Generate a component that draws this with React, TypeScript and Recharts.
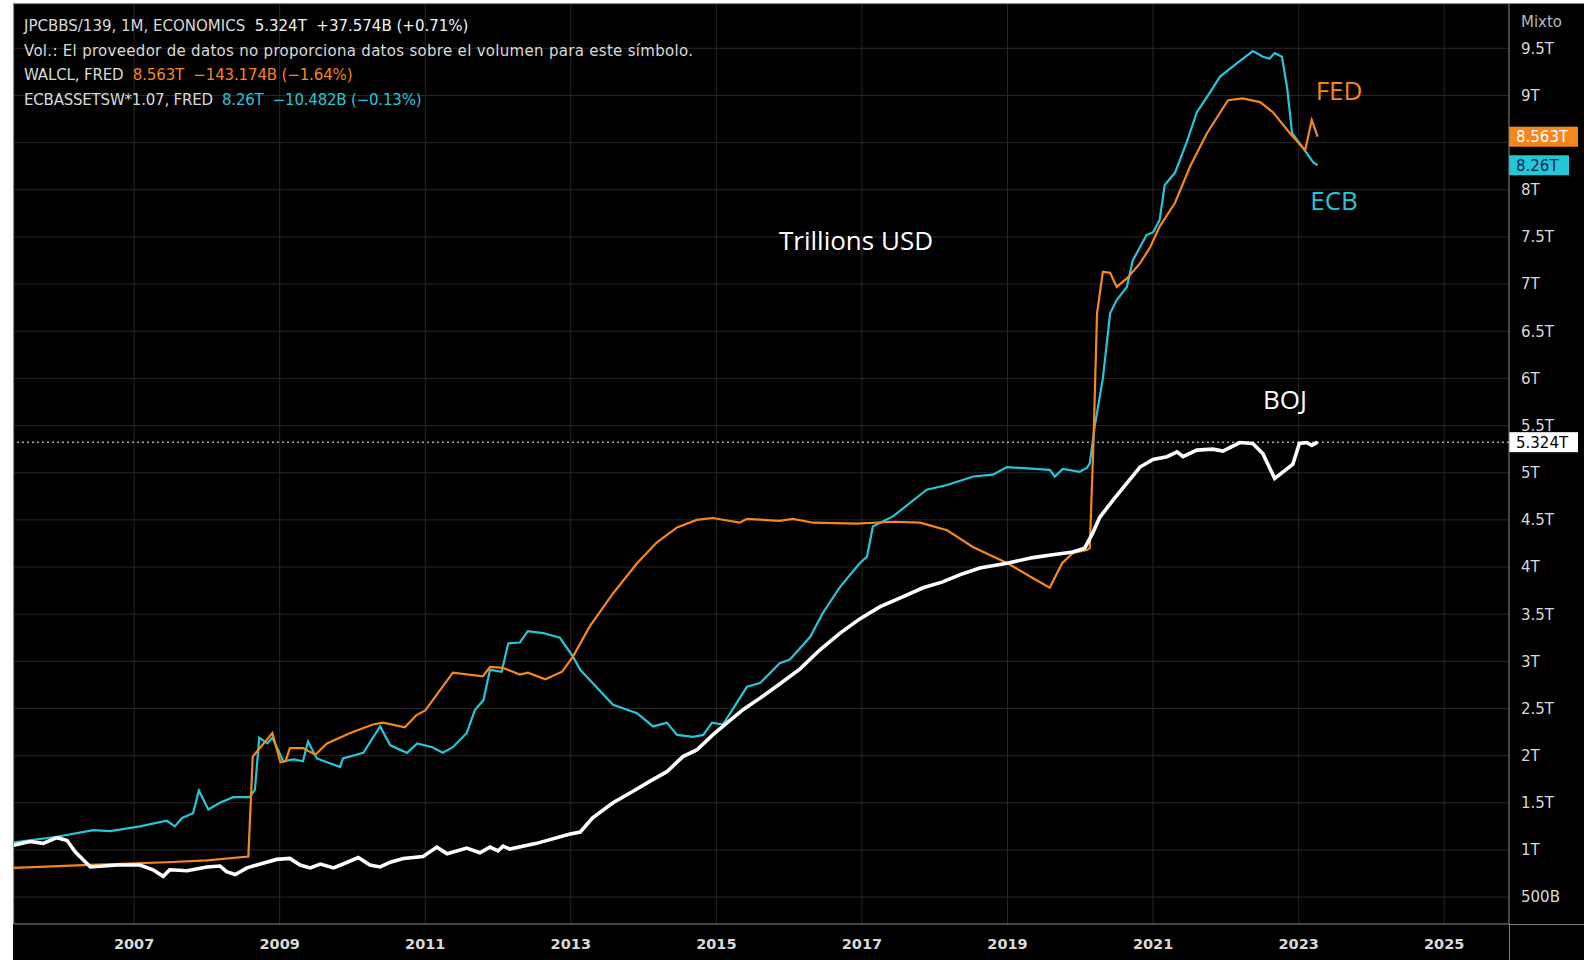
import React from 'react';
import { LineChart, Line, XAxis, YAxis, CartesianGrid, ReferenceLine } from 'recharts';

// ---- data (fractional year, trillions USD) ----
const fedYears = [2005.35, 2006.3, 2007.45, 2008.0, 2008.57, 2008.63, 2008.9, 2009.01, 2009.08, 2009.14, 2009.32, 2009.49, 2009.65, 2009.97, 2010.28, 2010.42, 2010.72, 2010.88, 2011.0, 2011.38, 2011.79, 2011.89, 2012.07, 2012.3, 2012.41, 2012.65, 2012.88, 2013.03, 2013.26, 2013.58, 2013.91, 2014.18, 2014.46, 2014.73, 2014.95, 2015.32, 2015.42, 2015.87, 2016.05, 2016.33, 2016.93, 2017.43, 2017.8, 2018.17, 2018.53, 2019.0, 2019.31, 2019.58, 2019.75, 2019.9, 2020.09, 2020.13, 2020.18, 2020.23, 2020.31, 2020.41, 2020.5, 2020.64, 2020.82, 2020.96, 2021.09, 2021.3, 2021.51, 2021.74, 2022.03, 2022.23, 2022.47, 2022.65, 2022.88, 2023.09, 2023.18, 2023.26];
const fedValues = [0.81, 0.84, 0.87, 0.89, 0.93, 1.99, 2.24, 1.93, 1.94, 2.08, 2.08, 2.01, 2.13, 2.24, 2.33, 2.35, 2.3, 2.43, 2.48, 2.88, 2.84, 2.94, 2.93, 2.86, 2.88, 2.81, 2.89, 3.05, 3.37, 3.72, 4.04, 4.26, 4.42, 4.5, 4.52, 4.47, 4.51, 4.49, 4.51, 4.47, 4.46, 4.48, 4.47, 4.39, 4.21, 4.04, 3.9, 3.78, 4.04, 4.15, 4.18, 4.2, 5.3, 6.69, 7.13, 7.12, 6.97, 7.06, 7.22, 7.39, 7.61, 7.86, 8.25, 8.6, 8.95, 8.97, 8.93, 8.82, 8.6, 8.42, 8.74, 8.563];

const ecbYears = [2005.35, 2005.94, 2006.44, 2006.67, 2007.08, 2007.45, 2007.56, 2007.66, 2007.81, 2007.89, 2008.02, 2008.18, 2008.36, 2008.59, 2008.66, 2008.72, 2008.83, 2008.9, 2009.05, 2009.19, 2009.32, 2009.39, 2009.51, 2009.83, 2009.87, 2010.15, 2010.38, 2010.52, 2010.75, 2010.89, 2011.1, 2011.24, 2011.38, 2011.57, 2011.68, 2011.8, 2011.89, 2012.05, 2012.14, 2012.3, 2012.41, 2012.62, 2012.85, 2013.03, 2013.13, 2013.36, 2013.58, 2013.91, 2014.13, 2014.32, 2014.46, 2014.68, 2014.82, 2014.94, 2015.09, 2015.42, 2015.6, 2015.87, 2016.01, 2016.29, 2016.46, 2016.7, 2016.97, 2017.07, 2017.15, 2017.43, 2017.89, 2018.17, 2018.53, 2018.8, 2018.99, 2019.58, 2019.65, 2019.76, 2019.99, 2020.09, 2020.13, 2020.2, 2020.31, 2020.41, 2020.5, 2020.64, 2020.72, 2020.91, 2021.0, 2021.09, 2021.16, 2021.3, 2021.46, 2021.6, 2021.78, 2021.92, 2022.15, 2022.37, 2022.51, 2022.6, 2022.67, 2022.77, 2022.84, 2022.91, 2023.11, 2023.2, 2023.26];
const ecbValues = [1.08, 1.14, 1.21, 1.2, 1.25, 1.31, 1.25, 1.34, 1.39, 1.63, 1.43, 1.5, 1.56, 1.56, 1.64, 2.19, 2.13, 2.19, 1.94, 1.96, 1.94, 2.15, 1.97, 1.88, 1.97, 2.03, 2.31, 2.11, 2.03, 2.13, 2.09, 2.03, 2.09, 2.24, 2.48, 2.59, 2.91, 2.89, 3.19, 3.2, 3.32, 3.3, 3.25, 3.05, 2.91, 2.72, 2.54, 2.45, 2.31, 2.35, 2.22, 2.2, 2.22, 2.35, 2.33, 2.73, 2.77, 2.98, 3.02, 3.26, 3.51, 3.79, 4.04, 4.11, 4.43, 4.54, 4.82, 4.87, 4.96, 4.98, 5.06, 5.03, 4.96, 5.04, 5.01, 5.05, 5.1, 5.5, 6.0, 6.69, 6.83, 6.97, 7.25, 7.52, 7.55, 7.68, 8.05, 8.18, 8.5, 8.82, 9.03, 9.2, 9.34, 9.47, 9.41, 9.39, 9.45, 9.41, 9.09, 8.6, 8.39, 8.29, 8.26];

const bojYears = [2005.34, 2005.57, 2005.75, 2005.94, 2006.08, 2006.19, 2006.4, 2006.77, 2007.08, 2007.26, 2007.4, 2007.49, 2007.73, 2008.0, 2008.18, 2008.27, 2008.39, 2008.55, 2008.77, 2008.96, 2009.14, 2009.28, 2009.42, 2009.56, 2009.74, 2009.93, 2010.08, 2010.24, 2010.38, 2010.52, 2010.7, 2010.97, 2011.16, 2011.3, 2011.57, 2011.75, 2011.89, 2012.0, 2012.07, 2012.16, 2012.53, 2012.99, 2013.13, 2013.3, 2013.58, 2013.85, 2014.09, 2014.32, 2014.54, 2014.73, 2014.95, 2015.15, 2015.37, 2015.6, 2015.87, 2016.15, 2016.42, 2016.7, 2016.97, 2017.25, 2017.52, 2017.84, 2018.1, 2018.35, 2018.62, 2018.99, 2019.35, 2019.62, 2019.9, 2020.06, 2020.17, 2020.27, 2020.45, 2020.64, 2020.82, 2021.0, 2021.19, 2021.33, 2021.41, 2021.6, 2021.82, 2021.96, 2022.19, 2022.37, 2022.51, 2022.67, 2022.84, 2022.92, 2023.01, 2023.11, 2023.18, 2023.26];
const bojValues = [1.05, 1.09, 1.07, 1.13, 1.1, 0.98, 0.82, 0.84, 0.84, 0.79, 0.72, 0.79, 0.78, 0.82, 0.83, 0.77, 0.74, 0.81, 0.86, 0.9, 0.91, 0.84, 0.81, 0.85, 0.81, 0.87, 0.92, 0.84, 0.82, 0.87, 0.91, 0.93, 1.03, 0.96, 1.02, 0.97, 1.03, 0.99, 1.04, 1.01, 1.07, 1.17, 1.19, 1.34, 1.5, 1.62, 1.73, 1.83, 1.99, 2.06, 2.22, 2.35, 2.49, 2.61, 2.76, 2.92, 3.12, 3.3, 3.45, 3.58, 3.67, 3.78, 3.84, 3.92, 3.99, 4.04, 4.1, 4.13, 4.16, 4.2, 4.36, 4.53, 4.71, 4.89, 5.06, 5.14, 5.17, 5.22, 5.17, 5.24, 5.25, 5.23, 5.32, 5.31, 5.2, 4.94, 5.04, 5.09, 5.31, 5.32, 5.29, 5.324];

const yearTicks = [2007, 2009, 2011, 2013, 2015, 2017, 2019, 2021, 2023, 2025];
const valueTicks = [0.5, 1, 1.5, 2, 2.5, 3, 3.5, 4, 4.5, 5, 5.5, 6, 6.5, 7, 7.5, 8, 8.5, 9, 9.5];
const hiddenTickLabels = [8.5]; // covered by the price boxes in the original

const lastFed = 8.563;
const lastEcb = 8.26;
const lastBoj = 5.324;

const fedData = fedYears.map((t, i) => ({ t, v: fedValues[i] }));
const ecbData = ecbYears.map((t, i) => ({ t, v: ecbValues[i] }));
const bojData = bojYears.map((t, i) => ({ t, v: bojValues[i] }));

const ORANGE = '#f7861c';
const CYAN = '#26c6da';
const TEXT = '#d9d9d9';

const fmtValue = (v: number) =>
  hiddenTickLabels.includes(v) ? '' : v < 1 ? `${Math.round(v * 1000)}B` : `${v}T`;

const PriceBox = (props: any) => {
  const { viewBox, text, bg, fg, boxWidth } = props;
  if (!viewBox) return null;
  const x = viewBox.x + viewBox.width;
  const y = viewBox.y;
  return (
    <g>
      <rect x={x} y={y - 10} width={boxWidth} height={20} fill={bg} />
      <text x={x + 7} y={y} dy="0.36em" fill={fg} fontSize={15} fontFamily="DejaVu Sans">
        {text}
      </text>
    </g>
  );
};

export default function App() {
  const legendStyle: React.CSSProperties = {
    position: 'absolute',
    left: 24,
    top: 14,
    fontFamily: 'DejaVu Sans',
    fontSize: 15,
    lineHeight: '24.5px',
    color: TEXT,
    whiteSpace: 'pre',
  };
  const anno = (color: string): React.CSSProperties => ({
    position: 'absolute',
    fontFamily: 'Open Sans',
    fontSize: 26,
    color,
    transform: 'translate(-50%, -50%)',
    whiteSpace: 'pre',
    lineHeight: '30px',
  });
  return (
    <div style={{ position: 'fixed', left: 0, top: 0, width: 1584, height: 960, background: '#ffffff', overflow: 'hidden' }}>
      <div style={{ position: 'absolute', left: 13, top: 3, width: 1571, height: 957, background: '#000000' }}>
        <LineChart width={1571} height={957} margin={{ top: 1, left: 1, right: 0, bottom: 0 }}>
          <CartesianGrid stroke="#262626" strokeWidth={1} />
          <XAxis
            dataKey="t"
            type="number"
            domain={[2005.35, 2025.89]}
            allowDataOverflow
            ticks={yearTicks}
            height={36}
            tickLine={false}
            tickSize={6}
            tickMargin={9}
            axisLine={{ stroke: '#7a7a7a' }}
            tick={{ fill: TEXT, fontSize: 14.5, fontWeight: 'bold', fontFamily: 'DejaVu Sans' }}
          />
          <YAxis
            orientation="right"
            type="number"
            domain={[0.215, 9.97]}
            allowDataOverflow
            ticks={valueTicks}
            width={75}
            tickLine={false}
            tickSize={6}
            tickMargin={6}
            axisLine={{ stroke: '#7a7a7a' }}
            tickFormatter={fmtValue}
            tick={{ fill: TEXT, fontSize: 15, fontFamily: 'DejaVu Sans', textAnchor: 'start' }}
          />
          <ReferenceLine
            y={lastBoj}
            stroke="#ffffff"
            strokeDasharray="2 3"
            strokeWidth={1}
            label={<PriceBox text="5.324T" bg="#ffffff" fg="#000000" boxWidth={69} />}
          />
          <ReferenceLine y={lastFed} stroke="none" label={<PriceBox text="8.563T" bg={ORANGE} fg="#ffffff" boxWidth={69} />} />
          <ReferenceLine y={lastEcb} stroke="none" label={<PriceBox text="8.26T" bg={CYAN} fg="#0b2a45" boxWidth={60} />} />
          <Line data={ecbData} dataKey="v" stroke={CYAN} strokeWidth={2.2} dot={false} isAnimationActive={false} type="linear" />
          <Line data={fedData} dataKey="v" stroke={ORANGE} strokeWidth={2.2} dot={false} isAnimationActive={false} type="linear" />
          <Line data={bojData} dataKey="v" stroke="#ffffff" strokeWidth={3.6} dot={false} isAnimationActive={false} type="linear" />
        </LineChart>
      </div>
      {/* left/top frame lines */}
      <div style={{ position: 'absolute', left: 13, top: 3, width: 1, height: 921, background: '#8a8a8a' }} />
      <div style={{ position: 'absolute', left: 13, top: 3, width: 1571, height: 1, background: '#8a8a8a' }} />
      {/* axis cross extension */}
      <div style={{ position: 'absolute', left: 1509, top: 924, width: 1, height: 36, background: '#7a7a7a' }} />
      <div style={{ position: 'absolute', left: 1509, top: 924, width: 75, height: 1, background: '#7a7a7a' }} />

      <div style={legendStyle}>
        <div>{'JPCBBS/139, 1M, ECONOMICS  '}<span style={{ color: '#f2f2f2' }}>{'5.324T  +37.574B (+0.71%)'}</span></div>
        <div style={{ letterSpacing: '0.3px' }}>{'Vol.: El proveedor de datos no proporciona datos sobre el volumen para este símbolo.'}</div>
        <div style={{ letterSpacing: '-0.14px' }}>{'WALCL, FRED  '}<span style={{ color: ORANGE }}>{'8.563T  −143.174B (−1.64%)'}</span></div>
        <div style={{ letterSpacing: '-0.2px' }}>{'ECBASSETSW*1.07, FRED  '}<span style={{ color: CYAN }}>{'8.26T  −10.482B (−0.13%)'}</span></div>
      </div>
      <div style={{ position: 'absolute', left: 1521, top: 13, fontFamily: 'DejaVu Sans', fontSize: 15, color: '#b8b8b8' }}>Mixto</div>

      <div style={{ ...anno(ORANGE), left: 1339, top: 90 }}>FED</div>
      <div style={{ ...anno(CYAN), left: 1334, top: 200 }}>ECB</div>
      <div style={{ ...anno('#ffffff'), left: 1285, top: 399 }}>BOJ</div>
      <div style={{ ...anno('#ffffff'), left: 856, top: 240 }}>Trillions USD</div>
    </div>
  );
}
